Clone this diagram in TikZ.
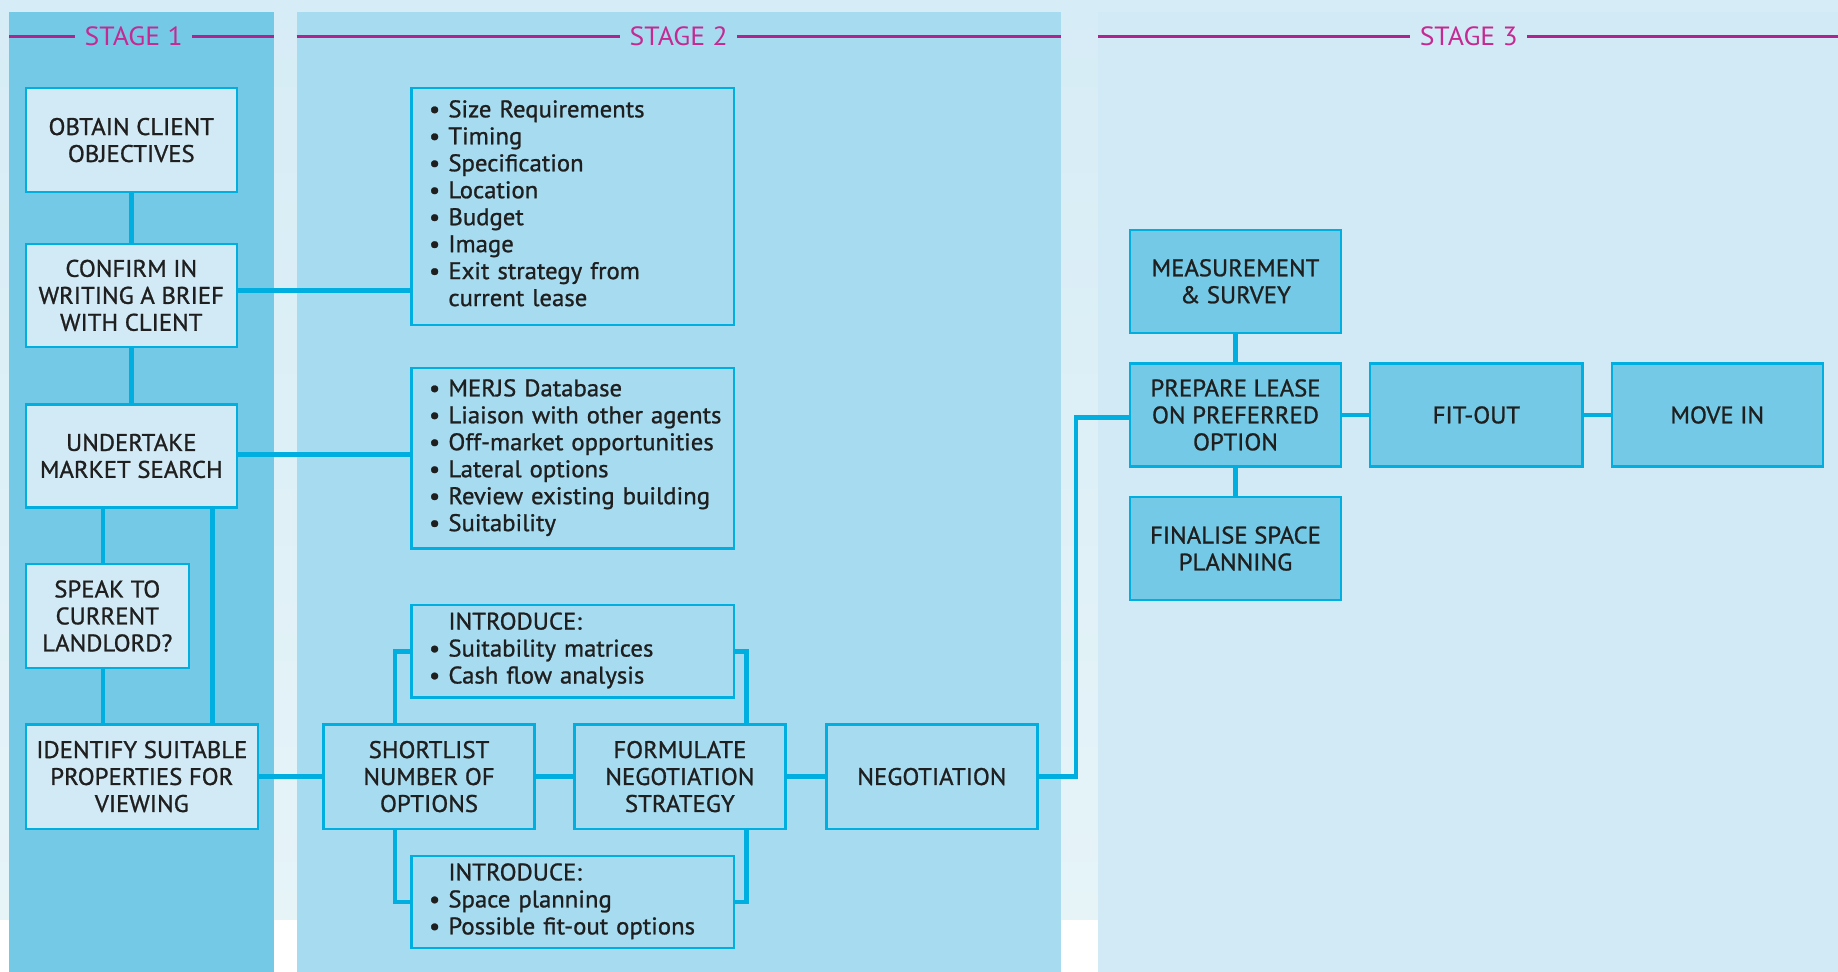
\documentclass[tikz,border=0pt]{standalone}
\usepackage{fontspec}
\setmainfont{PT Sans}[FakeStretch=1.03, FakeBold=1.0]
\newfontfamily\stagefam{PT Sans}[FakeStretch=1.05]
\usetikzlibrary{calc}
\definecolor{cyanline}{HTML}{00AEDF}
\definecolor{magline}{HTML}{B0228E}
\definecolor{magtext}{HTML}{C42A92}
\definecolor{panelA}{HTML}{74C9E6}
\definecolor{panelB}{HTML}{A6DBF0}
\definecolor{panelC}{HTML}{D2EAF5}
\definecolor{lightfill}{HTML}{D2EAF5}
\definecolor{bgtop}{HTML}{D6ECF6}
\definecolor{bgbot}{HTML}{E6F4F8}
\definecolor{textdark}{HTML}{1F1F1F}
\newcommand\bxfont{\fontsize{20.5}{23}\selectfont}
\newcommand\stfont{\stagefam\fontsize{22.5}{24}\selectfont}
\tikzset{
  box/.style={draw=cyanline, line width=2pt, inner sep=0pt, align=center,
    font=\bxfont, text=textdark, minimum width=180pt, minimum height=88pt},
  sonebox/.style={box, fill=lightfill},
  stwobox/.style={box, fill=panelB},
  sthreebox/.style={box, fill=panelA},
  listbox/.style={box, fill=panelB, align=left, inner xsep=15pt,
    text width=245pt, minimum width=275pt},
  conn/.style={draw=cyanline, line width=4pt},
  stageline/.style={draw=magline, line width=2.5pt},
  stagelabel/.style={font=\stfont, text=magtext, inner xsep=8pt, inner ysep=0pt}
}
\begin{document}
\begin{tikzpicture}[x=1pt,y=-1pt]
\useasboundingbox (0,0) rectangle (1568,829);
% backgrounds
\fill[white] (0,0) rectangle (1568,829);
\shade[top color=bgtop, bottom color=bgbot] (0,0) rectangle (1568,784);
\fill[panelA] (8,10) rectangle (234,829);
\fill[panelB] (253,10) rectangle (905,829);
\fill[panelC] (937,10) rectangle (1568,829);

% stage headers
\node[stagelabel] (st1) at (114,31) {STAGE 1};
\node[stagelabel] (st2) at (579,31) {STAGE 2};
\node[stagelabel] (st3) at (1253,31) {STAGE 3};
\coordinate (s1L) at (8,31);   \coordinate (s1R) at (234,31);
\coordinate (s2L) at (253,31); \coordinate (s2R) at (905,31);
\coordinate (s3L) at (937,31); \coordinate (s3R) at (1568,31);
\draw[stageline] (s1L) -- (st1.west);
\draw[stageline] (st1.east) -- (s1R);
\draw[stageline] (s2L) -- (st2.west);
\draw[stageline] (st2.east) -- (s2R);
\draw[stageline] (s3L) -- (st3.west);
\draw[stageline] (st3.east) -- (s3R);

% stage 1
\node[sonebox, minimum height=89pt] (obtain) at (112,119.5) {OBTAIN CLIENT\\OBJECTIVES};
\node[sonebox] (confirm) at (112,252) {CONFIRM IN\\WRITING A BRIEF\\WITH CLIENT};
\node[sonebox] (undertake) at (112,389) {UNDERTAKE\\MARKET SEARCH};
\node[sonebox, minimum width=139pt, minimum height=89pt] (speak) at (91.5,525.5) {SPEAK TO\\CURRENT\\LANDLORD?};
\node[sonebox, minimum width=198pt, minimum height=89pt] (identify) at (121,662.5) {IDENTIFY SUITABLE\\PROPERTIES FOR\\VIEWING};

% stage 2
\node[listbox, minimum height=202pt] (listA) at (488.5,176) {%
\begin{tabular}{@{}l@{\hspace{7pt}}l@{}}
\textbullet & Size Requirements\\
\textbullet & Timing\\
\textbullet & Specification\\
\textbullet & Location\\
\textbullet & Budget\\
\textbullet & Image\\
\textbullet & Exit strategy from\\
 & current lease
\end{tabular}};
\node[listbox, minimum height=154pt] (listB) at (488.5,391) {%
\begin{tabular}{@{}l@{\hspace{7pt}}l@{}}
\textbullet & MERJS Database\\
\textbullet & Liaison with other agents\\
\textbullet & Off-market opportunities\\
\textbullet & Lateral options\\
\textbullet & Review existing building\\
\textbullet & Suitability
\end{tabular}};
\node[listbox, minimum height=79pt] (introA) at (488.5,555.5) {%
\begin{tabular}{@{}l@{\hspace{7pt}}l@{}}
 & INTRODUCE:\\
\textbullet & Suitability matrices\\
\textbullet & Cash flow analysis
\end{tabular}};
\node[listbox, minimum height=79pt] (introB) at (488.5,769.5) {%
\begin{tabular}{@{}l@{\hspace{7pt}}l@{}}
 & INTRODUCE:\\
\textbullet & Space planning\\
\textbullet & Possible fit-out options
\end{tabular}};
\node[stwobox, minimum height=89pt] (shortlist) at (366,662.5) {SHORTLIST\\NUMBER OF\\OPTIONS};
\node[stwobox, minimum height=89pt] (formulate) at (580,662.5) {FORMULATE\\NEGOTIATION\\STRATEGY};
\node[stwobox, minimum height=89pt] (negotiation) at (795,662.5) {NEGOTIATION};

% stage 3
\node[sthreebox] (measure) at (1054,240) {MEASUREMENT\\\& SURVEY};
\node[sthreebox] (prepare) at (1054,354) {PREPARE LEASE\\ON PREFERRED\\OPTION};
\node[sthreebox] (finalise) at (1054,468) {FINALISE SPACE\\PLANNING};
\node[sthreebox, minimum width=181pt] (fitout) at (1259.5,354) {FIT-OUT};
\node[sthreebox] (movein) at (1465,354) {MOVE IN};

% helper x positions
\coordinate (xa) at (88,0);
\coordinate (xb) at (181,0);
\coordinate (xc) at (337,0);
\coordinate (xd) at (637,0);
\coordinate (xe) at (918,0);

% connectors stage 1
\draw[conn] (obtain.south) -- (confirm.north);
\draw[conn] (confirm.south) -- (undertake.north);
\draw[conn] (undertake.south -| xa) -- (speak.north -| xa);
\draw[conn] (speak.south -| xa) -- (identify.north -| xa);
\draw[conn] (undertake.south -| xb) -- (identify.north -| xb);
\draw[conn] ($(confirm.east)+(0,-4)$) -- ($(confirm.east -| listA.west)+(0,-4)$);
\draw[conn] ($(undertake.east)+(0,-1)$) -- ($(undertake.east -| listB.west)+(0,-1)$);
\draw[conn] (identify.east) -- (identify.east -| shortlist.west);

% connectors stage 2
\draw[conn] (shortlist.north -| xc) |- (introA.west);
\draw[conn] (introA.east) -| (formulate.north -| xd);
\draw[conn] (shortlist.south -| xc) |- (introB.west);
\draw[conn] (introB.east) -| (formulate.south -| xd);
\draw[conn] (shortlist.east) -- (formulate.west);
\draw[conn] (formulate.east) -- (negotiation.west);
\draw[conn] (negotiation.east) -- (negotiation.east -| xe) |- ($(prepare.west)+(0,2)$);

% connectors stage 3
\draw[conn] (measure.south) -- (prepare.north);
\draw[conn] (prepare.south) -- (finalise.north);
\draw[conn] (prepare.east) -- (fitout.west);
\draw[conn] (fitout.east) -- (movein.west);
\end{tikzpicture}
\end{document}
